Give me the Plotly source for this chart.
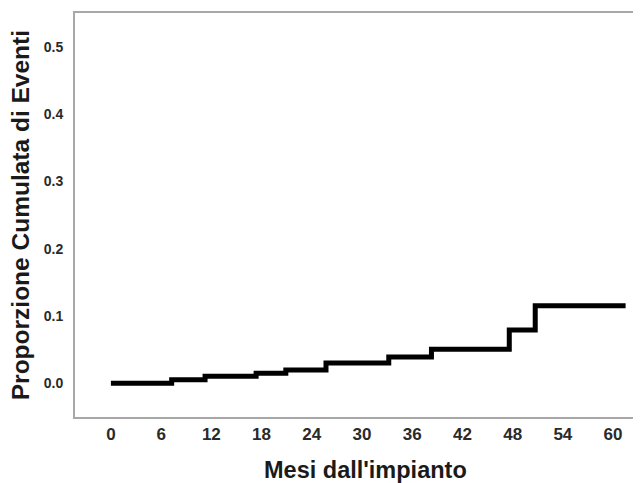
import plotly.graph_objects as go

# Kaplan-Meier style cumulative incidence
months = [0, 7.26, 11.25, 17.35, 20.9, 25.7, 33.2, 38.3, 47.6, 50.7, 61.5]
cum_prop = [0.0, 0.0055, 0.0104, 0.0149, 0.0199, 0.0303, 0.0393, 0.0508, 0.0794, 0.1155, 0.1155]

x_ticks = [0, 6, 12, 18, 24, 30, 36, 42, 48, 54, 60]
y_ticks = [0.0, 0.1, 0.2, 0.3, 0.4, 0.5]

x_title = "Mesi dall'impianto"
y_title = "Proporzione Cumulata di Eventi"

fig = go.Figure()
fig.add_trace(go.Scatter(
    x=months, y=cum_prop, mode="lines",
    line=dict(shape="hv", color="black", width=5),
    showlegend=False, hoverinfo="skip",
))

border = "#a8a8a8"
# page body has an 8px margin, so the figure is sized to fit the window
fig.update_layout(
    width=633, height=475,
    margin=dict(l=67, r=1, t=5, b=66),
    paper_bgcolor="white", plot_bgcolor="white",
    font=dict(family="Liberation Sans, Arial, sans-serif", color="#222"),
    xaxis=dict(
        range=[-4.29, 62.98], tickvals=x_ticks, ticktext=[str(v) for v in x_ticks],
        showgrid=False, zeroline=False, showline=True, mirror=True,
        linecolor=border, linewidth=2, ticks="",
        tickfont=dict(size=17, weight="bold", color="#2a2a2a"),
        ticklabelstandoff=1,
    ),
    yaxis=dict(
        range=[-0.05, 0.5505], tickvals=y_ticks, tickformat=".1f",
        showgrid=False, zeroline=False, showline=True, mirror=True,
        linecolor=border, linewidth=2, ticks="",
        tickfont=dict(size=14, weight="bold", color="#2a2a2a"),
        ticklabelstandoff=7,
    ),
    annotations=[
        dict(text=y_title, xref="paper", yref="paper", x=-0.0973, y=0.5,
             xanchor="center", yanchor="middle", textangle=-90, showarrow=False,
             font=dict(size=24.5, weight="bold", color="#1a1a1a")),
        dict(text=x_title, xref="paper", yref="paper", x=0.516, y=-0.132,
             xanchor="center", yanchor="middle", showarrow=False,
             font=dict(size=23.5, weight="bold", color="#1a1a1a")),
    ],
)

fig.write_html("out.html")
